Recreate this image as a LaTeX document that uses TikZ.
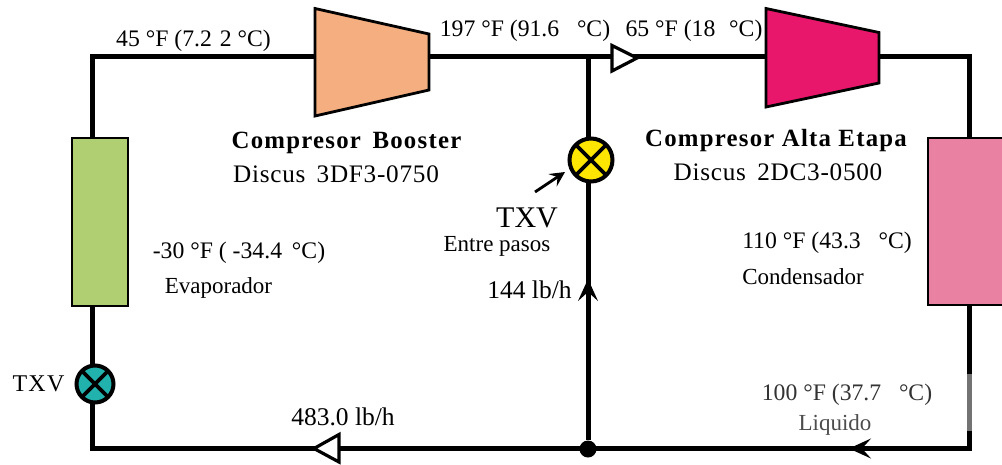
\documentclass[tikz,border=0pt]{standalone}
\usepackage{fontspec}
\setmainfont{Liberation Serif}
\usetikzlibrary{arrows.meta,backgrounds}
\definecolor{boostc}{HTML}{F4AE7F}
\definecolor{altac}{HTML}{E8176B}
\definecolor{evapc}{HTML}{AFCF72}
\definecolor{condc}{HTML}{E981A3}
\definecolor{valvey}{HTML}{FFE600}
\definecolor{valvet}{HTML}{22B2AE}
\tikzset{
  pipe/.style={line width=5pt,draw=black,line join=miter},
  unit/.style={line width=2.8pt,draw=black,line join=miter},
  hx/.style={draw=black,line width=2.6pt,rectangle,inner sep=0pt,outer sep=0pt,minimum width=56pt},
  valve/.style={circle,draw=black,line width=4pt,inner sep=0pt,outer sep=0pt,
    path picture={\draw[line width=3.6pt] (path picture bounding box.north west)--(path picture bounding box.south east)
      (path picture bounding box.north east)--(path picture bounding box.south west);}},
  flowtri/.style={draw=black,fill=white,line width=3.2pt,line join=miter},
  tag/.style={inner sep=0pt,outer sep=0pt},
  lbl/.style={tag,font=\fontsize{23.7}{26}\selectfont},
  lbls/.style={tag,font=\fontsize{23}{26}\selectfont},
  lblb/.style={tag,font=\fontsize{24.8}{28}\selectfont\bfseries\addfontfeature{LetterSpace=5}},
  lbld/.style={tag,font=\fontsize{25.2}{28}\selectfont\addfontfeature{LetterSpace=3}},
  flowhead/.style={line width=4.6pt,-{Stealth[length=22pt,width=20pt,inset=9pt,line width=1.6pt]}},
}
\begin{document}
\begin{tikzpicture}[x=1pt,y=-1pt]
\useasboundingbox (0,0) rectangle (1002,464);
% corners and ports
\coordinate (cTL) at (92.5,56.5);
\coordinate (cBL) at (92.5,448.5);
\coordinate (cTR) at (969,56.5);
\coordinate (cBR) at (969,448.5);
\coordinate (jTop) at (588,56.5);
\coordinate (bIn) at (315,56.5);
\coordinate (bOut) at (429,56.5);
\coordinate (aIn) at (766,56.5);
\coordinate (aOut) at (879,56.5);
\coordinate (arrUp) at (588,279);
\coordinate (arrUpTail) at (588,312);
\coordinate (arrLeft) at (849,448.5);
\coordinate (arrLeftTail) at (882,448.5);
\coordinate (txvTail) at (535,192);
\coordinate (txvTip) at (565,172);
\coordinate (grayTop) at (969,374);
\coordinate (grayEnd) at (969,431);
% nodes
\node[hx,fill=evapc,minimum height=168pt] (evap) at (100,222) {};
\node[hx,fill=condc,minimum width=82pt,minimum height=167pt] (cond) at (969,221.5) {};
\node[valve,fill=valvet,minimum size=37pt] (txvA) at (95,384) {};
\node[valve,fill=valvey,minimum size=43pt] (txvB) at (591,160) {};
\node[circle,fill=black,minimum size=17pt,inner sep=0pt] (junc) at (588,449) {};
% pipes
\begin{scope}[on background layer]
\draw[pipe] (92.5,222) -- (cTL) -- (bIn);
\draw[pipe] (bOut) -- (aIn);
\draw[pipe] (aOut) -- (cTR) -- (969,222);
\draw[pipe] (969,222) -- (grayTop);
\draw[line width=5pt,draw=black!55] (grayTop) -- (grayEnd);
\draw[pipe] (grayEnd) -- (cBR) -- (cBL) -- (92.5,222);
\draw[pipe] (jTop) -- (588,160);
\draw[pipe] (588,160) -- (junc);
\end{scope}
% compressors
\draw[unit,fill=boostc] (315,8.5) -- (429,34) -- (429,90) -- (315,116) -- cycle;
\draw[unit,fill=altac] (766,8.5) -- (879,32.5) -- (879,83) -- (766,107) -- cycle;
% flow marks
\draw[flowtri] (612,45.5) -- (637,58) -- (612,71) -- cycle;
\draw[flowtri] (339,434.5) -- (314,448.5) -- (339,462) -- cycle;
\draw[flowhead] (arrUpTail) -- (arrUp);
\draw[flowhead] (arrLeftTail) -- (arrLeft);
\draw[line width=2.8pt,-{Stealth[length=15pt,width=15pt,inset=6pt,line width=1pt]}] (txvTail) -- (txvTip);
% labels
\node[lbl] (t45) at (193.5,40.5) {45 °F (7.2\,\,2 °C)};
\node[lbl] (t197) at (525,31) {197 °F (91.6\,\,\, °C)};
\node[lbl] (t65) at (694,31) {65 °F (18\,\, °C)};
\node[lblb] (tcb) at (346.5,143) {Compresor\, Booster};
\node[lbld] (tdb) at (336,174) {Discus\, 3DF3-0750};
\node[lblb] (tca) at (776,141) {Compresor Alta Etapa};
\node[lbld] (tda) at (778,172) {Discus\, 2DC3-0500};
\node[tag,font=\fontsize{30}{32}\selectfont] (ttxvb) at (527,218) {TXV};
\node[lbls] (tent) at (497,246) {Entre pasos};
\node[tag,font=\fontsize{25.5}{28}\selectfont] (t144) at (529.5,290) {144 lb/h};
\node[lbl] (t30) at (239,253) {-30 °F ( -34.4\, °C)};
\node[lbls] (tev) at (218.5,288) {Evaporador};
\node[lbl] (t110) at (827,243) {110 °F (43.3\,\,\, °C)};
\node[lbls] (tcond) at (803,277) {Condensador};
\node[lbl,text=black!80] (t100) at (847,395) {100 °F (37.7\,\,\, °C)};
\node[lbls,text=black!70] (tliq) at (835,425) {Liquido};
\node[tag,font=\fontsize{24}{26}\selectfont\addfontfeature{LetterSpace=5}] (ttxva) at (38.5,384) {TXV};
\node[tag,font=\fontsize{25.5}{28}\selectfont] (t483) at (343,417) {483.0 lb/h};
\end{tikzpicture}
\end{document}
